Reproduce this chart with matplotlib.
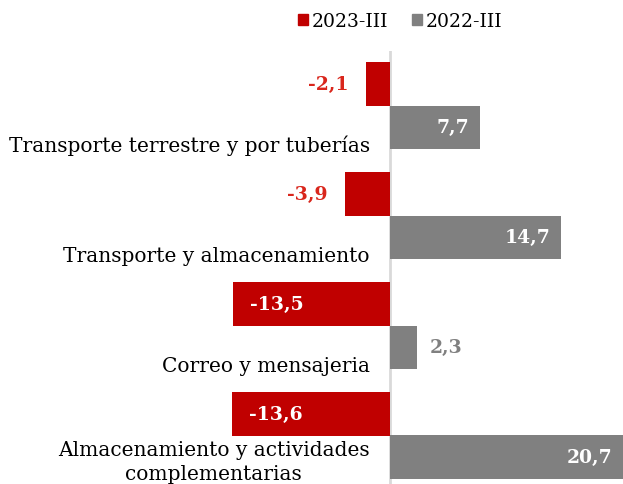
import matplotlib
matplotlib.use("Agg")
import matplotlib.pyplot as plt
from matplotlib.patches import Patch

categories = [
    "Transporte terrestre y por tuberías",
    "Transporte y almacenamiento",
    "Correo y mensajeria",
    "Almacenamiento y actividades\ncomplementarias",
]
serie_2023 = [-2.1, -3.9, -13.5, -13.6]
serie_2022 = [7.7, 14.7, 2.3, 20.7]
labels = ["2023-III", "2022-III"]

red = "#C00000"
gray = "#808080"
red_txt = "#D9261C"
font = "DejaVu Serif"

plt.rcParams["font.family"] = [font]

fig = plt.figure(figsize=(6.23, 4.85), dpi=100)
ax = fig.add_axes([0, 0, 1, 433.5 / 485])

h = 0.395
pos = list(range(len(categories)))
y_red = [p - h / 2 for p in pos]
y_gray = [p + h / 2 for p in pos]

ax.barh(y_red, serie_2023, height=h, color=red, zorder=2)
ax.barh(y_gray, serie_2022, height=h, color=gray, zorder=2)

ax.set_xlim(-33.53, 20.03)
ax.set_ylim(-0.5 + 433.5 / 110, -0.5)
ax.axvline(0, color="#D9D9D9", lw=2, zorder=1)
ax.axis("off")

def fmt(v):
    return f"{v:.1f}".replace(".", ",")

# etiquetas de valores
fs_val = 13.5
for yy, v in zip(y_red, serie_2023):
    if abs(v) < 8:
        ax.text(v - 1.5, yy, fmt(v), ha="right", va="center", color=red_txt,
                fontsize=fs_val, fontweight="bold")
    else:
        ax.text(v + 1.45, yy, fmt(v), ha="left", va="center", color="white",
                fontsize=fs_val, fontweight="bold")
for yy, v in zip(y_gray, serie_2022):
    if v < 5:
        ax.text(v + 1.1, yy, fmt(v), ha="left", va="center", color=gray,
                fontsize=fs_val, fontweight="bold")
    else:
        ax.text(min(v, 20.0) - 0.9, yy, fmt(v), ha="right", va="center",
                color="white", fontsize=fs_val, fontweight="bold")

# etiquetas de categorias
for p, c in zip(pos, categories):
    off = 0.36 if "\n" not in c else 0.235
    ax.text(-1.75, p + off, c, ha="right", va="center", ma="center",
            fontsize=14.5, color="black", linespacing=1.3)

handles = [Patch(color=red), Patch(color=gray)]
fig.legend(handles, labels, loc="center", bbox_to_anchor=(400 / 623, 1 - 22 / 485),
           ncol=2, frameon=False, fontsize=13.5, handlelength=0.5, handleheight=0.5,
           handletextpad=0.2, columnspacing=1.3)

fig.savefig("out.png", dpi=100)
